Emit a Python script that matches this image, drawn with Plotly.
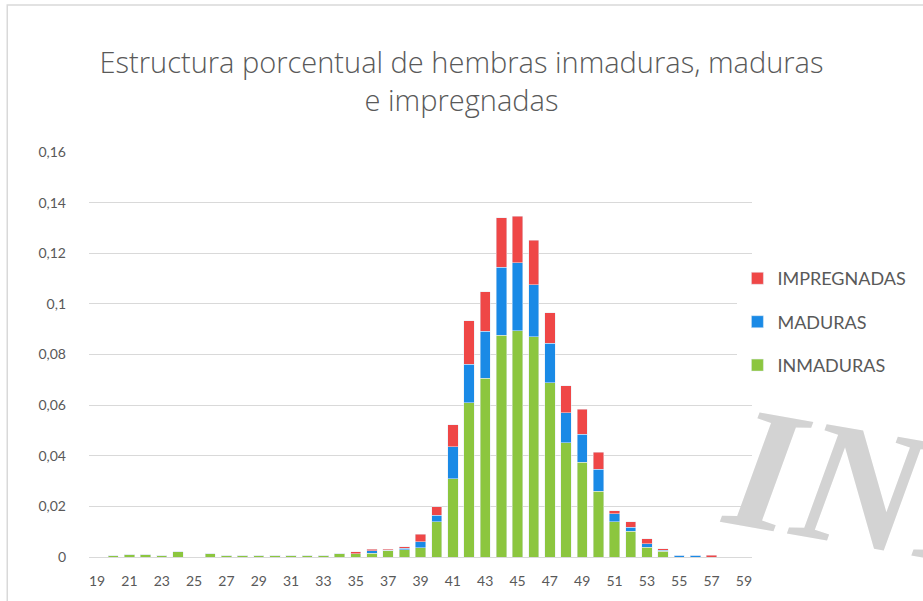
import plotly.graph_objects as go

# Talla (cm) categories
tallas = list(range(19, 60))

inmaduras = [0, 0.0005, 0.001, 0.001, 0.0006, 0.002, 0, 0.0012, 0.0006, 0.0006,
             0.0006, 0.0006, 0.0006, 0.0006, 0.0006, 0.0012, 0.0012, 0.0014, 0.0026, 0.0028,
             0.0037, 0.014, 0.031, 0.0609, 0.0706, 0.0877, 0.0894, 0.087, 0.0689, 0.0452,
             0.0375, 0.026, 0.014, 0.0101, 0.0039, 0.0022, 0, 0, 0, 0, 0]
maduras = [0, 0, 0, 0, 0, 0, 0, 0, 0, 0,
           0, 0, 0, 0, 0, 0, 0, 0.0011, 0, 0.0006,
           0.0024, 0.0024, 0.0126, 0.0153, 0.0185, 0.0268, 0.0269, 0.0205, 0.0155, 0.0118,
           0.0109, 0.0086, 0.003, 0.0016, 0.0013, 0.0005, 0.0007, 0.0007, 0, 0, 0]
impregnadas = [0, 0, 0, 0, 0, 0, 0, 0, 0, 0,
               0, 0, 0, 0, 0, 0, 0.0008, 0.0005, 0.0005, 0.0006,
               0.0028, 0.0034, 0.0087, 0.0172, 0.0157, 0.0195, 0.0184, 0.0176, 0.0121, 0.0106,
               0.010, 0.0067, 0.0013, 0.0023, 0.002, 0.0005, 0, 0, 0.0007, 0, 0]

y_tickvals = [0, 0.02, 0.04, 0.06, 0.08, 0.1, 0.12, 0.14, 0.16]
y_ticktext = ["0", "0,02", "0,04", "0,06", "0,08", "0,1", "0,12", "0,14", "0,16"]
x_tickvals = list(range(19, 60, 2))

title_text = "Estructura porcentual de hembras inmaduras, maduras<br>e impregnadas"
watermark_text = "INIDEP"

fig = go.Figure()
fig.add_trace(go.Bar(x=tallas, y=inmaduras, name="INMADURAS", marker_color="#8CC63F",
                     legendgroup="a", legendrank=3))
fig.add_trace(go.Bar(x=tallas, y=maduras, name="MADURAS", marker_color="#1A8AE6",
                     legendgroup="b", legendrank=2))
fig.add_trace(go.Bar(x=tallas, y=impregnadas, name="IMPREGNADAS", marker_color="#EF4747",
                     legendgroup="c", legendrank=1))

text_color = "#595959"
fig.update_layout(
    barmode="stack",
    bargap=0.36,
    width=923, height=601,
    margin=dict(l=89, r=169, t=152, b=44),
    plot_bgcolor="white", paper_bgcolor="white",
    title=dict(text=title_text, x=0.5, xref="container", xanchor="center",
               y=1 - 73 / 601, yref="container", yanchor="top",
               font=dict(family="Open Sans", size=29, color=text_color, weight=300)),
    legend=dict(x=0.978, xanchor="left", y=0.58, yanchor="middle",
                traceorder="grouped", tracegroupgap=17,
                font=dict(family="Lato", size=18, color=text_color),
                itemwidth=30),
    font=dict(family="Lato", size=14, color=text_color),
    showlegend=True,
)
fig.update_xaxes(range=[18.5, 59.5], tickvals=x_tickvals, showgrid=False,
                 showline=False, zeroline=False, ticks="",
                 tickfont=dict(family="Lato", size=14, color=text_color),
                 ticklabelstandoff=14)
fig.update_yaxes(range=[0, 0.16], tickvals=y_tickvals, ticktext=y_ticktext,
                 showgrid=True, gridcolor="#D9D9D9", gridwidth=1,
                 zeroline=True, zerolinecolor="#D9D9D9", zerolinewidth=1,
                 showline=False, ticks="",
                 tickfont=dict(family="Lato", size=14, color=text_color),
                 ticklabelstandoff=22)

# outer chart border
fig.add_shape(type="rect", xref="paper", yref="paper",
              x0=(7 - 89) / 665, x1=(935 - 89) / 665,
              y0=(557 - 610) / 405, y1=(557 - 5) / 405,
              line=dict(color="#D9D9D9", width=1.5), fillcolor="rgba(0,0,0,0)")

# document watermark
fig.add_annotation(text=watermark_text, xref="paper", yref="paper",
                   x=(1036 - 89) / 665, y=(557 - 517) / 405,
                   xanchor="center", yanchor="middle", textangle=10,
                   showarrow=False,
                   font=dict(family="Liberation Serif", size=175, color="#D3D3D3",
                             weight="bold", style="italic"))

fig.write_html("out.html", config={"displayModeBar": False},
               post_script="document.body.style.margin='0';document.body.style.overflow='hidden';")
